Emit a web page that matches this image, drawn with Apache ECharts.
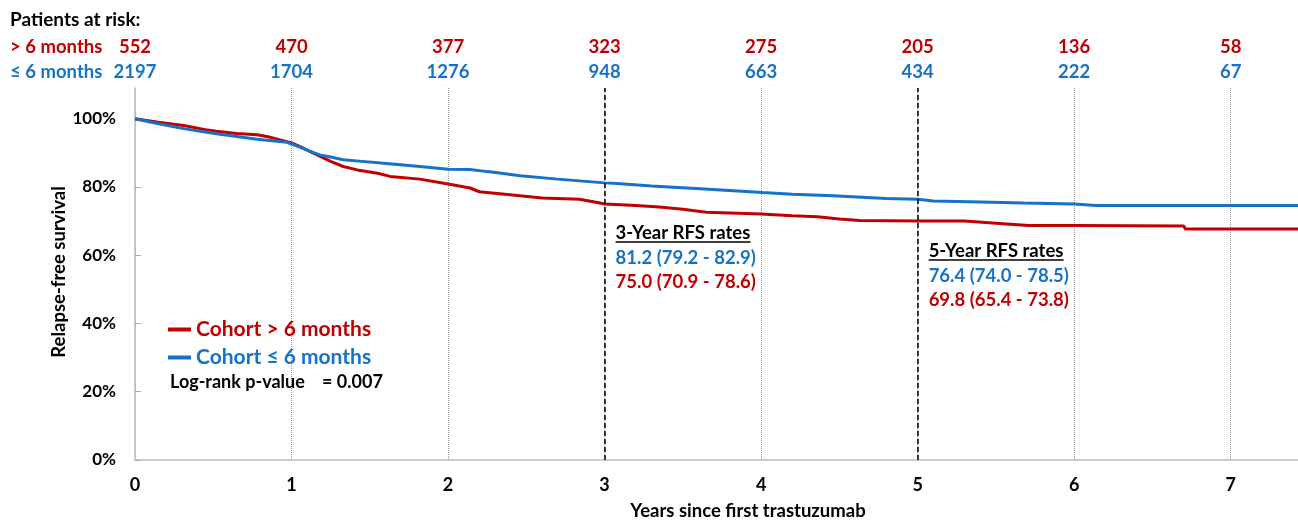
<!DOCTYPE html>
<html>
<head>
<meta charset="utf-8">
<script src="https://cdn.jsdelivr.net/npm/echarts@6/dist/echarts.min.js"></script>
<style>
  html, body { margin: 0; padding: 0; background: #fff; }
  #main { width: 1298px; height: 521px; }
</style>
</head>
<body>
<div id="main"></div>
<script>
// 年份刻度
const years = [0, 1, 2, 3, 4, 5, 6, 7];
// 风险人数
const riskGt6 = [552, 470, 377, 323, 275, 205, 136, 58];
const riskLe6 = [2197, 1704, 1276, 948, 663, 434, 222, 67];

// 生存曲线 [年, %]
const curveGt6 = [
  [0, 100], [0.15, 99], [0.31, 98], [0.45, 96.8], [0.52, 96.3], [0.65, 95.7], [0.78, 95.3],
  [0.85, 94.7], [0.97, 93.3], [1.0, 92.9], [1.07, 91.5], [1.14, 89.9], [1.25, 87.5], [1.33, 86],
  [1.42, 85], [1.55, 84], [1.63, 83.1], [1.82, 82.3], [2.0, 80.9], [2.14, 79.7], [2.2, 78.6],
  [2.33, 78.0], [2.46, 77.4], [2.6, 76.8], [2.84, 76.4], [2.97, 75.3], [3.0, 75.0], [3.2, 74.6],
  [3.35, 74.1], [3.5, 73.5], [3.65, 72.6], [4.0, 72.1], [4.2, 71.6], [4.36, 71.3], [4.5, 70.6],
  [4.63, 70.2], [5.0, 70.0], [5.3, 70.0], [5.5, 69.4], [5.71, 68.7], [6.0, 68.7], [6.7, 68.6],
  [6.71, 67.7], [7.43, 67.7]
];
const curveLe6 = [
  [0, 100], [0.15, 98.5], [0.31, 97.1], [0.52, 95.6], [0.78, 94], [0.97, 93.1], [1.0, 92.6],
  [1.12, 90.4], [1.18, 89.4], [1.25, 88.8], [1.33, 88], [1.45, 87.5], [1.57, 87], [1.82, 86],
  [2.0, 85.2], [2.14, 85.1], [2.25, 84.5], [2.33, 84.1], [2.46, 83.3], [2.7, 82.3], [3.0, 81.2],
  [3.08, 81.0], [3.3, 80.3], [3.61, 79.5], [4.01, 78.4], [4.2, 77.9], [4.46, 77.4], [4.8, 76.6],
  [5.0, 76.4], [5.1, 75.9], [5.33, 75.7], [5.68, 75.3], [6.0, 75.0], [6.14, 74.6], [7.43, 74.6]
];

const rfs3 = ['3-Year RFS rates', '81.2 (79.2 - 82.9)', '75.0 (70.9 - 78.6)'];
const rfs5 = ['5-Year RFS rates', '76.4 (74.0 - 78.5)', '69.8 (65.4 - 73.8)'];

const RED = '#C00000';
const BLUE = '#1572C8';
const FONT = 'Lato, "Open Sans", sans-serif';

const myChart = echarts.init(document.getElementById('main'));
myChart.setOption({
  animation: false,
  grid: { left: 135, right: 0, top: 88, bottom: 61 },
  legend: {
    orient: 'vertical',
    left: 163,
    top: 314,
    itemWidth: 23,
    itemHeight: 4,
    itemGap: 7,
    icon: 'rect',
    textStyle: { fontFamily: FONT, fontWeight: 'bold', fontSize: 21 },
    data: [
      { name: 'Cohort > 6 months', textStyle: { color: RED } },
      { name: 'Cohort ≤ 6 months', textStyle: { color: BLUE } }
    ]
  },
  xAxis: {
    type: 'value',
    min: 0,
    max: 7.43,
    interval: 1,
    axisLine: { lineStyle: { color: '#bdbdbd', width: 1.5 } },
    axisTick: { show: false },
    axisLabel: {
      showMaxLabel: false,
      margin: 16,
      color: '#000',
      fontFamily: FONT,
      fontWeight: 'bold',
      fontSize: 18
    },
    splitLine: { show: true, lineStyle: { color: '#9a9a9a', type: 'dotted', width: 1 } }
  },
  yAxis: {
    type: 'value',
    min: 0,
    max: 109,
    interval: 20,
    axisLine: { show: true, lineStyle: { color: '#bdbdbd', width: 1.5 } },
    axisTick: { show: true, inside: true, length: 6, lineStyle: { color: '#aaa' } },
    axisLabel: {
      showMaxLabel: false,
      margin: 19,
      color: '#000',
      fontFamily: FONT,
      fontWeight: 'bold',
      fontSize: 17,
      formatter: (v) => (v > 100 ? '' : v + '%')
    },
    splitLine: { show: false }
  },
  series: [
    {
      name: 'Cohort > 6 months',
      type: 'line',
      data: curveGt6,
      showSymbol: false,
      color: RED,
      lineStyle: { color: RED, width: 3 },
      z: 3,
      markLine: {
        silent: true,
        symbol: 'none',
        label: { show: false },
        lineStyle: { color: '#000', type: [5, 3], width: 1.5 },
        data: [{ xAxis: 3 }, { xAxis: 5 }]
      }
    },
    {
      name: 'Cohort ≤ 6 months',
      type: 'line',
      data: curveLe6,
      showSymbol: false,
      color: BLUE,
      lineStyle: { color: BLUE, width: 3 },
      z: 4
    }
  ]
});

// 文字注释
const px = (t) => myChart.convertToPixel({ xAxisIndex: 0 }, t);
const bold = (size, color) => ({ fontFamily: FONT, fontWeight: 'bold', fontSize: size, fill: color });

const graphics = [
  { type: 'text', x: 10, y: 20, style: Object.assign({ text: 'Patients at risk:', verticalAlign: 'middle' }, bold(19, '#000')) },
  { type: 'text', x: 10, y: 47, style: Object.assign({ text: '> 6 months', verticalAlign: 'middle' }, bold(18.5, RED)) },
  { type: 'text', x: 10, y: 72, style: Object.assign({ text: '≤ 6 months', verticalAlign: 'middle' }, bold(18.5, BLUE)) },
  { type: 'text', x: 170, y: 382, style: Object.assign({ text: 'Log-rank p-value', verticalAlign: 'middle' }, bold(18, '#000')) },
  { type: 'text', x: 322, y: 382, style: Object.assign({ text: '= 0.007', verticalAlign: 'middle' }, bold(18, '#000')) },
  {
    type: 'text', x: 748, y: 511,
    style: Object.assign({ text: 'Years since first trastuzumab', align: 'center', verticalAlign: 'middle' }, bold(18.5, '#000'))
  },
  {
    type: 'text', x: 59, y: 272, rotation: Math.PI / 2,
    style: Object.assign({ text: 'Relapse-free survival', align: 'center', verticalAlign: 'middle' }, bold(18.5, '#000'))
  }
];

years.forEach((t, i) => {
  const x = px(t);
  graphics.push({ type: 'text', x: x, y: 47, style: Object.assign({ text: String(riskGt6[i]), align: 'center', verticalAlign: 'middle' }, bold(18.5, RED)) });
  graphics.push({ type: 'text', x: x, y: 72, style: Object.assign({ text: String(riskLe6[i]), align: 'center', verticalAlign: 'middle' }, bold(18.5, BLUE)) });
});

[[3, rfs3, 233], [5, rfs5, 251]].forEach(([t, lines, y0]) => {
  const x = px(t) + 11;
  graphics.push({ type: 'text', x: x, y: y0, style: Object.assign({ text: lines[0], verticalAlign: 'middle' }, bold(18.5, '#000')) });
  graphics.push({ type: 'line', shape: { x1: x, y1: y0 + 9, x2: x + 135, y2: y0 + 9 }, style: { stroke: '#000', lineWidth: 1.3 } });
  graphics.push({ type: 'text', x: x, y: y0 + 25, style: Object.assign({ text: lines[1], verticalAlign: 'middle' }, bold(18.5, BLUE)) });
  graphics.push({ type: 'text', x: x, y: y0 + 49, style: Object.assign({ text: lines[2], verticalAlign: 'middle' }, bold(18.5, RED)) });
});

myChart.setOption({ graphic: graphics });

window.addEventListener('resize', () => { myChart.resize(); });
</script>
</body>
</html>
